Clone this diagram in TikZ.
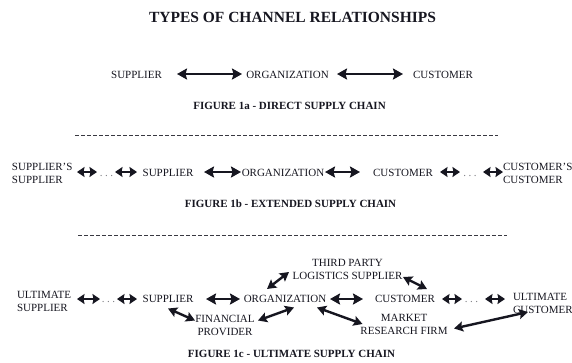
\documentclass[tikz,border=0pt]{standalone}
\usepackage{fontspec}
\setmainfont{Liberation Serif}
\usetikzlibrary{arrows.meta}
\definecolor{ink}{RGB}{22,22,32}
\tikzset{
  lbl/.style={inner sep=0pt, outer sep=0pt, text=ink, font=\fontsize{11}{13}\selectfont},
  capt/.style={lbl, font=\fontsize{11}{13}\selectfont\bfseries},
  ttl/.style={lbl, font=\fontsize{15.5}{18}\selectfont\bfseries},
  arr/.style={line width=2.6pt, draw=ink, {Stealth[length=10pt,width=11pt,inset=1.5pt]}-{Stealth[length=10pt,width=11pt,inset=1.5pt]}},
  sarr/.style={line width=2.6pt, draw=ink, {Stealth[length=7.5pt,width=10pt,inset=1pt]}-{Stealth[length=7.5pt,width=10pt,inset=1pt]}},
  darr/.style={line width=2.4pt, draw=ink, {Stealth[length=9pt,width=10pt,inset=1.5pt]}-{Stealth[length=9pt,width=10pt,inset=1.5pt]}},
  dotsty/.style={lbl, text=ink!55},
  sepline/.style={draw=ink!85, line width=0.8pt, dash pattern=on 4pt off 2pt},
}
\newcommand{\twoL}[2]{\begin{tabular}[t]{@{}l@{}}#1\\#2\end{tabular}}
\newcommand{\twoC}[2]{\begin{tabular}[t]{@{}c@{}}#1\\#2\end{tabular}}
\begin{document}
\begin{tikzpicture}[x=1pt,y=-1pt]
\path[use as bounding box, fill=white] (0,0) rectangle (572,362);
% title
\node[ttl, anchor=base] (title) at (292.5,22.5) {TYPES OF CHANNEL RELATIONSHIPS};
% ---------- Figure 1a
\node[lbl, anchor=base] (s1) at (136.5,78) {SUPPLIER};
\node[lbl, anchor=base] (o1) at (287.5,78) {ORGANIZATION};
\node[lbl, anchor=base] (c1) at (443,78) {CUSTOMER};
\draw[arr] ([shift={(40.5,-4)}]s1.base) -- ([shift={(-45.5,-4)}]o1.base);
\draw[arr] ([shift={(49.5,-4)}]o1.base) -- ([shift={(-40,-4)}]c1.base);
\node[capt, anchor=base] (cap1) at (289.5,109.5) {FIGURE 1a - DIRECT SUPPLY CHAIN};
\coordinate (d1a) at (75,135);
\coordinate (d1b) at (498,135);
\draw[sepline] (d1a) -- (d1b);
% ---------- Figure 1b
\node[lbl, anchor=base west] (ss2) at (12,170) {\twoL{SUPPLIER’S}{SUPPLIER}};
\node[dotsty, anchor=base] (d2a) at (106.5,176) {.\kern2.6pt.\kern2.6pt.};
\node[lbl, anchor=base] (s2) at (168,176) {SUPPLIER};
\node[lbl, anchor=base] (o2) at (283,176) {ORGANIZATION};
\node[lbl, anchor=base] (c2) at (403,176) {CUSTOMER};
\node[dotsty, anchor=base] (d2b) at (470,176) {.\kern2.6pt.\kern2.6pt.};
\node[lbl, anchor=base west] (cc2) at (503,170) {\twoL{CUSTOMER’S}{CUSTOMER}};
\draw[sarr] ([shift={(65,2)}]ss2.base west) -- ([shift={(-9.5,-4)}]d2a.base);
\draw[sarr] ([shift={(8.5,-4)}]d2a.base) -- ([shift={(-31,-4)}]s2.base);
\draw[arr] ([shift={(36,-4)}]s2.base) -- ([shift={(-42,-4)}]o2.base);
\draw[arr] ([shift={(42,-4)}]o2.base) -- ([shift={(-43,-4)}]c2.base);
\draw[sarr] ([shift={(37,-4)}]c2.base) -- ([shift={(-10,-4)}]d2b.base);
\draw[sarr] ([shift={(13,-4)}]d2b.base) -- ([shift={(0,2)}]cc2.base west);
\node[capt, anchor=base] (cap2) at (290.5,207) {FIGURE 1b - EXTENDED SUPPLY CHAIN};
\coordinate (d2s) at (78,235);
\coordinate (d2e) at (507,235);
\draw[sepline] (d2s) -- (d2e);
% ---------- Figure 1c
\node[lbl, anchor=base west] (us3) at (17,298.5) {\twoL{ULTIMATE}{SUPPLIER}};
\node[dotsty, anchor=base] (d3a) at (108.5,302.5) {.\kern2.6pt.\kern2.6pt.};
\node[lbl, anchor=base] (s3) at (168,302.5) {SUPPLIER};
\node[lbl, anchor=base] (o3) at (285,302.5) {ORGANIZATION};
\node[lbl, anchor=base] (c3) at (405,302.5) {CUSTOMER};
\node[dotsty, anchor=base] (d3b) at (471.5,302.5) {.\kern2.6pt.\kern2.6pt.};
\node[lbl, anchor=base west] (uc3) at (513,300) {\twoL{ULTIMATE}{CUSTOMER}};
\node[lbl, anchor=base] (lg3) at (347.5,266) {\twoC{THIRD PARTY}{LOGISTICS SUPPLIER}};
\node[lbl, anchor=base] (fp3) at (225,322.5) {\twoC{FINANCIAL}{PROVIDER}};
\node[lbl, anchor=base] (mr3) at (404,321) {\twoC{MARKET}{RESEARCH FIRM}};
\draw[sarr] ([shift={(60,0.5)}]us3.base west) -- ([shift={(-8.5,-3.5)}]d3a.base);
\draw[sarr] ([shift={(8.5,-3.5)}]d3a.base) -- ([shift={(-31,-3.5)}]s3.base);
\draw[arr] ([shift={(38,-3.5)}]s3.base) -- ([shift={(-45,-3.5)}]o3.base);
\draw[arr] ([shift={(45,-3.5)}]o3.base) -- ([shift={(-42,-3.5)}]c3.base);
\draw[sarr] ([shift={(37,-3.5)}]c3.base) -- ([shift={(-9.5,-3.5)}]d3b.base);
\draw[sarr] ([shift={(13.5,-3.5)}]d3b.base) -- ([shift={(-8,-1)}]uc3.base west);
\draw[darr] ([shift={(-18,-13.5)}]o3.base) -- ([shift={(-58.5,6)}]lg3.base);
\draw[darr] ([shift={(55.5,11)}]lg3.base) -- ([shift={(22,-13.5)}]c3.base);
\draw[darr] ([shift={(0,6)}]s3.base) -- ([shift={(-30,-2)}]fp3.base);
\draw[darr] ([shift={(33,-2)}]fp3.base) -- ([shift={(9,5)}]o3.base);
\draw[darr] ([shift={(32,5)}]o3.base) -- ([shift={(-41.5,3)}]mr3.base);
\draw[darr] ([shift={(50,7.5)}]mr3.base) -- ([shift={(15,12)}]uc3.base west);
\node[capt, anchor=base] (cap3) at (291.5,357) {FIGURE 1c - ULTIMATE SUPPLY CHAIN};
\end{tikzpicture}
\end{document}
